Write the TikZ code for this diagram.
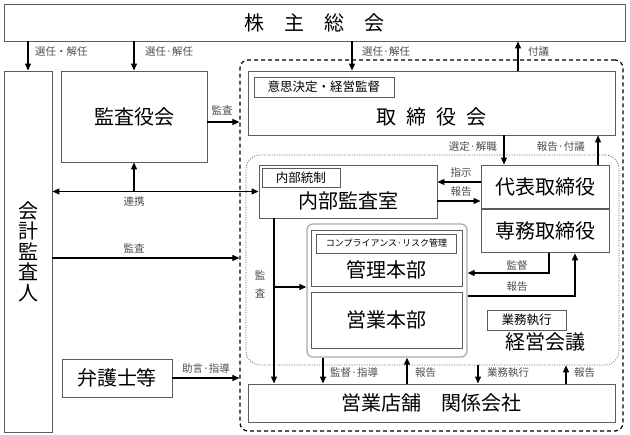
\documentclass[tikz,border=0pt]{standalone}
\usepackage{fontspec}
\usepackage{xcolor}
\usepackage{tikz}
\usetikzlibrary{calc,arrows.meta,positioning}
\newfontfamily\jp{Noto Sans CJK JP}
\definecolor{ink}{HTML}{000000}
\definecolor{edge}{HTML}{5C5C5C}
\definecolor{muted}{HTML}{4E4E4E}
\definecolor{soft}{HTML}{ABABAB}
\tikzset{
  box/.style={draw=edge, line width=0.9pt, inner sep=0pt},
  tagbox/.style={draw=edge, line width=0.8pt, inner sep=0pt, text=ink, font=\jp\fontsize{12.5}{13}\selectfont},
  big/.style={text=ink, inner sep=0pt, font=\jp\fontsize{20}{22}\selectfont},
  lab/.style={text=muted, inner sep=1pt, font=\jp\fontsize{10.5}{11}\selectfont},
  arr/.style={draw=ink, line width=1.1pt, -{Triangle[length=7pt,width=6pt]}},
  arrboth/.style={draw=ink, line width=1.1pt, {Triangle[length=7pt,width=6pt]}-{Triangle[length=7pt,width=6pt]}},
  outerbox/.style={draw=ink, dash pattern=on 4pt off 3pt, line width=1.2pt, rounded corners=8pt, inner sep=0pt},
  keieibox/.style={draw=edge, dash pattern=on 1pt off 1.5pt, line width=0.7pt, rounded corners=14pt, inner sep=0pt},
  honbubox/.style={draw=soft, line width=1.3pt, rounded corners=6pt, inner sep=0pt},
}

\begin{document}
\begin{tikzpicture}[x=1pt,y=-1pt]
  \useasboundingbox (0,0) rectangle (630,435);
  \fill[white] (0,0) rectangle (630,435);

  % boxes
  \node[box, big, minimum width=621, minimum height=37] (kabu) at (314.5,22.5) {株\hspace{1em}主\hspace{1em}総\hspace{1em}会};
  \node[box, big, align=center, minimum width=48, minimum height=361, font=\jp\fontsize{20}{20.5}\selectfont] (kaikei) at (28,251.5) {会\\計\\監\\査\\人};
  \node[box, big, minimum width=146, minimum height=91] (kansayaku) at (134,116.5) {監査役会};
  \node[box, big, minimum width=110, minimum height=38] (bengo) at (117,378) {弁護士等};

  \node[outerbox, minimum width=383, minimum height=371] (kaisha) at (431.5,245.5) {};
  \node[keieibox, minimum width=373, minimum height=210] (keiei) at (432.5,260) {};

  \node[box, minimum width=367, minimum height=64] (tori) at (431.5,103) {};
  \node[tagbox, minimum width=140, minimum height=20, anchor=north west] (toriTag) at ($(tori.north west)+(6,6)$) {意思決定・経営監督};
  \node[big] (toriT) at ($(tori.center)+(0,14)$) {取\hspace{.5em}締\hspace{.5em}役\hspace{.5em}会};

  \node[box, minimum width=178, minimum height=53] (naibu) at (348,191.5) {};
  \node[tagbox, minimum width=78, minimum height=19, anchor=north west] (naibuTag) at ($(naibu.north west)+(3,3)$) {内部統制};
  \node[big] (naibuT) at ($(naibu.center)+(0,9)$) {内部監査室};

  \node[box, big, minimum width=128, minimum height=43.5] (daihyo) at (545,186.75) {代表取締役};
  \node[box, big, minimum width=128, minimum height=43.5, below=0pt of daihyo] (senmu) {専務取締役};

  \node[honbubox, minimum width=160, minimum height=133] (honbu) at (387,290.5) {};
  \node[box, minimum width=151, minimum height=56] (kanri) at (386.5,258) {};
  \node[tagbox, minimum width=140, minimum height=19, anchor=north, font=\jp\fontsize{9}{10}\selectfont] (kanriTag) at ($(kanri.north)+(0,4)$) {コンプライアンス·リスク管理};
  \node[big] (kanriT) at ($(kanri.center)+(0,12)$) {管理本部};
  \node[box, big, minimum width=151, minimum height=56] (eigyo) at (386.5,320) {営業本部};

  \node[tagbox, minimum width=79, minimum height=20] (gyomuTag) at (526.5,320) {業務執行};
  \node[big] (keieiT) at (545,342) {経営会議};

  \node[box, big, minimum width=367, minimum height=38] (tenpo) at (431.5,403) {営業店舗\hspace{1em}関係会社};

  % connector positions
  \coordinate (selTori) at (352,0);
  \coordinate (fugi) at (518,0);
  \coordinate (sentei) at (504,0);
  \coordinate (fugi2) at (598,0);
  \coordinate (kansaX) at (274,0);
  \coordinate (kantoku) at (549,0);
  \coordinate (hokoku2) at (575,0);
  \coordinate (shidoX) at (323,0);
  \coordinate (hokoku3) at (407,0);
  \coordinate (shikkoX) at (478,0);
  \coordinate (hokoku4) at (566,0);
  \coordinate (kansaY) at (0,122);
  \coordinate (auditY) at (0,258);
  \coordinate (shijiY) at (0,182);
  \coordinate (hokokuY) at (0,201);
  \coordinate (branchY) at (0,287);
  \coordinate (kantokuY) at (0,273);
  \coordinate (hokoku2Y) at (0,296);

  % connectors
  \draw[arr] (kaikei.north |- kabu.south) -- (kaikei.north);
  \draw[arr] (kansayaku.north |- kabu.south) -- (kansayaku.north);
  \draw[arr] (selTori |- kabu.south) -- (selTori |- tori.north);
  \draw[arr] (fugi |- tori.north) -- (fugi |- kabu.south);
  \draw[arr] (kansayaku.east |- kansaY) -- (kaisha.west |- kansaY);
  \draw[arr] (sentei |- tori.south) -- (sentei |- daihyo.north);
  \draw[arr] (fugi2 |- daihyo.north) -- (fugi2 |- tori.south);
  \draw[arrboth] (kaikei.east |- naibu.west) -- (naibu.west);
  \draw[arr] (kansayaku.south |- naibu.west) -- (kansayaku.south);
  \draw[arr] (kaikei.east |- auditY) -- (kaisha.west |- auditY);
  \draw[arr] (daihyo.west |- shijiY) -- (naibu.east |- shijiY);
  \draw[arr] (naibu.east |- hokokuY) -- (daihyo.west |- hokokuY);
  \draw[arr] (kansaX |- naibu.south) -- (kansaX |- tenpo.north);
  \draw[arr] (kansaX |- branchY) -- (honbu.west |- branchY);
  \draw[arr] (kantoku |- senmu.south) -- (kantoku |- kantokuY) -- (honbu.east |- kantokuY);
  \draw[arr] (honbu.east |- hokoku2Y) -- (hokoku2 |- hokoku2Y) -- (hokoku2 |- senmu.south);
  \draw[arr] (shidoX |- honbu.south) -- (shidoX |- tenpo.north);
  \draw[arr] (hokoku3 |- tenpo.north) -- (hokoku3 |- honbu.south);
  \draw[arr] (shikkoX |- keiei.south) -- (shikkoX |- tenpo.north);
  \draw[arr] (hokoku4 |- tenpo.north) -- (hokoku4 |- keiei.south);
  \draw[arr] (bengo.east) -- (kaisha.west |- bengo.east);

  % labels
  \node[lab, anchor=west] (l1) at (34,52) {選任・解任};
  \node[lab, anchor=west] (l2) at (144,52) {選任·解任};
  \node[lab, anchor=west] (l3) at (361,52) {選任·解任};
  \node[lab, anchor=west] (l4) at (527,52) {付議};
  \node[lab] (l5) at (222,110) {監査};
  \node[lab, anchor=east] (l6) at (498,147) {選定·解職};
  \node[lab, anchor=east] (l7) at (586,147) {報告·付議};
  \node[lab] (l8) at (461,173) {指示};
  \node[lab] (l9) at (461,192) {報告};
  \node[lab] (l10) at (134,202) {連携};
  \node[lab] (l11) at (134,248) {監査};
  \node[lab, align=center, font=\jp\fontsize{10.5}{18}\selectfont] (l12) at (260,284) {監\\査};
  \node[lab] (l13) at (517,266) {監督};
  \node[lab] (l14) at (517,287) {報告};
  \node[lab, anchor=west] (l15) at (329,373) {監督·指導};
  \node[lab, anchor=west] (l16) at (414,373) {報告};
  \node[lab, anchor=west] (l17) at (486,373) {業務執行};
  \node[lab, anchor=west] (l18) at (573,373) {報告};
  \node[lab] (l19) at (206,369) {助言·指導};
\end{tikzpicture}
\end{document}
